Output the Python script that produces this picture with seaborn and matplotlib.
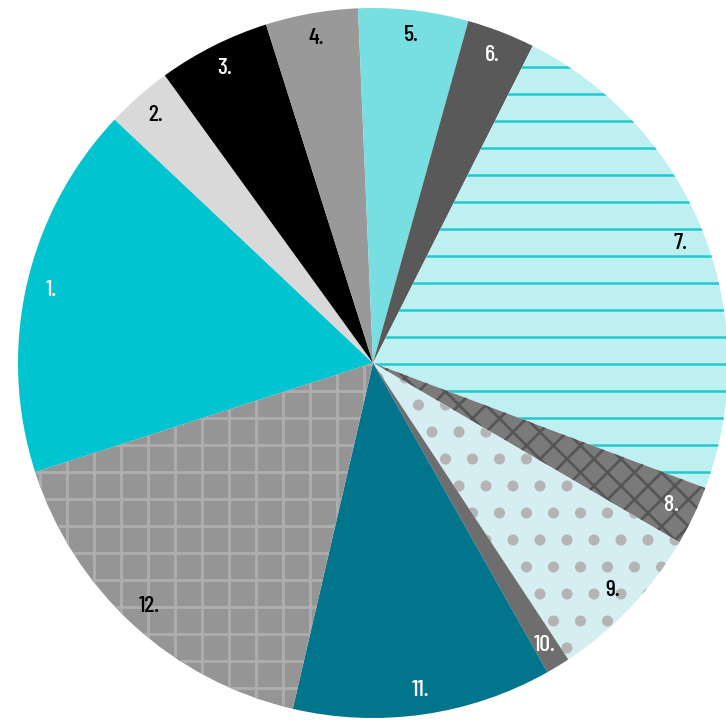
import matplotlib
matplotlib.use('Agg')
import matplotlib.pyplot as plt
import seaborn as sns

### DATOS ###
etiquetas = ['1.', '2.', '3.', '4.', '5.', '6.', '7.', '8.', '9.', '10.', '11.', '12.']
valores = [17.0, 3.0, 5.1, 4.2, 5.0, 3.1, 23.3, 2.7, 7.3, 1.1, 11.8, 16.4]
colores = ['#00C4D0', '#D9D9D9', '#000000', '#999999', '#77DEE2', '#595959',
           '#BEF0F2', '#7A7A7A', '#D5EEF2', '#6E6E6E', '#00758C', '#959595']
tramas = [None, None, None, None, None, None, '-', 'xx', '.', None, None, '+']
color_trama = ['#00C4D0', '#D9D9D9', '#000000', '#999999', '#77DEE2', '#595959',
               '#22C8D0', '#555555', '#B5B3B3', '#6E6E6E', '#00758C', '#ADADAD']
grosor_trama = [1, 1, 1, 1, 1, 1, 1.1, 1.2, 2.5, 1, 1, 1.3]
color_texto = ['white', 'black', 'white', 'black', 'black', 'white',
               'black', 'white', 'black', 'white', 'white', 'black']

### ESTILO ###
sns.set_theme(style='white')
plt.rcParams['font.family'] = ['Barlow Condensed', 'Barlow Semi Condensed',
                               'Oswald', 'DejaVu Sans']

DPI = 162
fig = plt.figure(figsize=(726 / DPI, 720 / DPI), dpi=DPI)
ax = fig.add_axes([0, 0, 1, 1])

cunas, textos = ax.pie(valores, labels=etiquetas, colors=colores,
                       startangle=197.9, counterclock=False,
                       labeldistance=0.93,
                       wedgeprops=dict(linewidth=0))

# tramas: el color de la trama sale del color del borde
for cuna, trama, ct, g in zip(cunas, tramas, color_trama, grosor_trama):
    cuna.set_edgecolor(ct)
    cuna.set_linewidth(0)
    if trama:
        cuna.set_hatch(trama)
        cuna.set_hatch_linewidth(g)

for t, c in zip(textos, color_texto):
    t.set_color(c)
    t.set_ha('center')
    t.set_va('center')
    t.set_fontsize(10.6)
    t.set_fontweight(500)

ax.set_xlim(-373 / 355, (726 - 373) / 355)
ax.set_ylim((363 - 720) / 355, 363 / 355)
ax.set_aspect('auto')
ax.axis('off')

fig.savefig('out.png', dpi=DPI)
